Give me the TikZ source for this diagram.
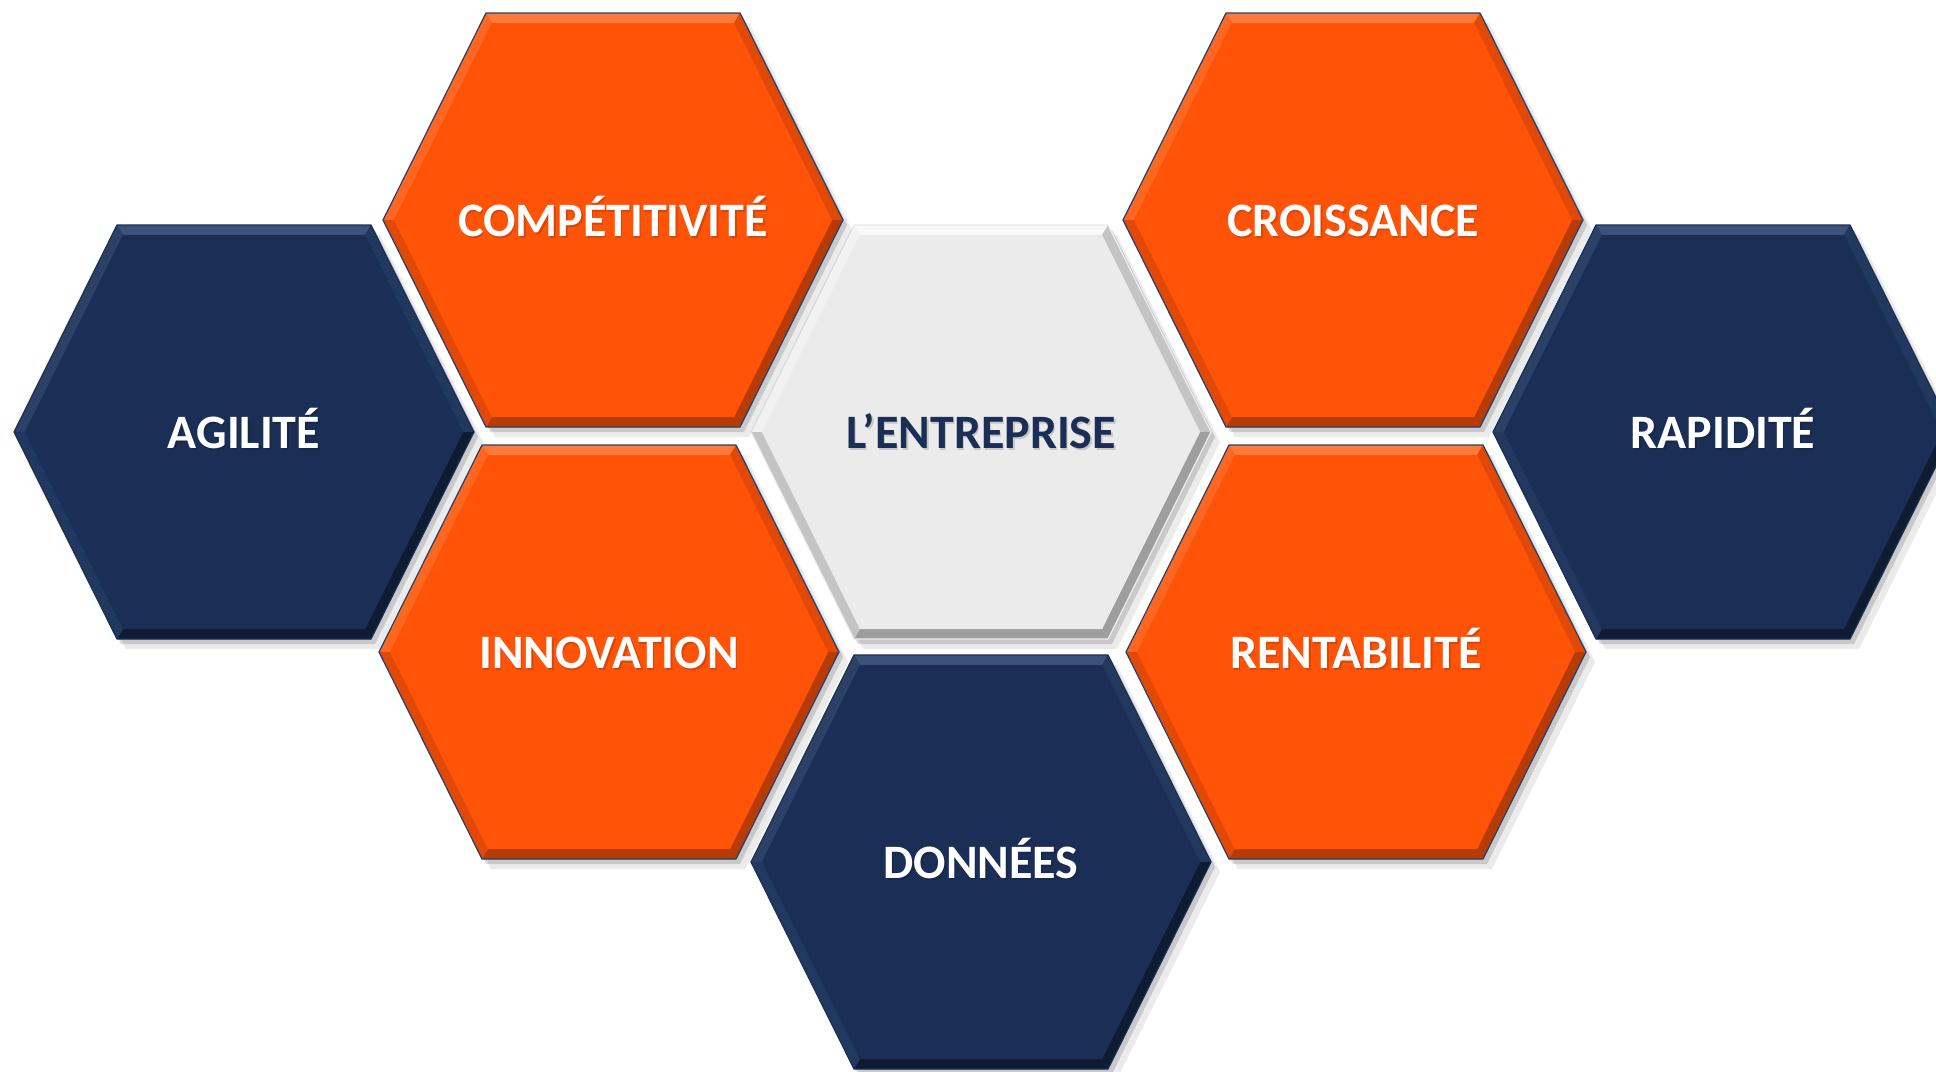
\documentclass[tikz,border=0pt]{standalone}
\usepackage{fontspec}
\setmainfont{Carlito}
\definecolor{orng}{HTML}{FF5308}
\definecolor{orngL}{HTML}{FF7A38}
\definecolor{orngD}{HTML}{B63B06}
\definecolor{orngM}{HTML}{E24906}
\definecolor{navy}{HTML}{1B2F56}
\definecolor{navyL}{HTML}{3B537A}
\definecolor{navyD}{HTML}{0E1B33}
\definecolor{navyM}{HTML}{22395F}
\definecolor{gry}{HTML}{EBEBEB}
\definecolor{gryL}{HTML}{F9F9F9}
\definecolor{gryD}{HTML}{9E9E9E}
\definecolor{gryM}{HTML}{C4C4C4}
\definecolor{edgeblue}{HTML}{24406E}
\tikzset{
  hexlabel/.style={font=\bfseries\fontsize{24}{27}\selectfont, inner sep=0pt, anchor=base},
}
% #1 x, #2 y, #3 node name, #4 colour scheme, #5 text, #6 text colour, #7 outline colour
\newcommand{\hexcell}[7]{%
  \begin{scope}[shift={(#1,#2)}]
    \coordinate (R) at (230,0);   \coordinate (TR) at (127,-207);
    \coordinate (TL) at (-127,-207); \coordinate (L) at (-230,0);
    \coordinate (BL) at (-127,207); \coordinate (BR) at (127,207);
    \coordinate (iR) at (219,0);   \coordinate (iTR) at (121,-197);
    \coordinate (iTL) at (-121,-197); \coordinate (iL) at (-219,0);
    \coordinate (iBL) at (-121,197); \coordinate (iBR) at (121,197);
    \fill[black,opacity=0.08] ([shift={(9,10)}]R) -- ([shift={(9,10)}]TR) -- ([shift={(9,10)}]TL) -- ([shift={(9,10)}]L) -- ([shift={(9,10)}]BL) -- ([shift={(9,10)}]BR) -- cycle;
    \fill[black,opacity=0.14] ([shift={(4,5)}]R) -- ([shift={(4,5)}]TR) -- ([shift={(4,5)}]TL) -- ([shift={(4,5)}]L) -- ([shift={(4,5)}]BL) -- ([shift={(4,5)}]BR) -- cycle;
    \fill[#4] (R) -- (TR) -- (TL) -- (L) -- (BL) -- (BR) -- cycle;
    \fill[#4L] (TL) -- (TR) -- (iTR) -- (iTL) -- cycle;
    \fill[#4L!50!#4] (L) -- (TL) -- (iTL) -- (iL) -- cycle;
    \fill[#4M] (TR) -- (R) -- (iR) -- (iTR) -- cycle;
    \fill[#4D] (R) -- (BR) -- (iBR) -- (iR) -- cycle;
    \fill[#4D] (BR) -- (BL) -- (iBL) -- (iBR) -- cycle;
    \fill[#4M] (BL) -- (L) -- (iL) -- (iBL) -- cycle;
    \fill[#4] (iR) -- (iTR) -- (iTL) -- (iL) -- (iBL) -- (iBR) -- cycle;
    \draw[#7, line width=0.6pt, line join=round] (R) -- (TR) -- (TL) -- (L) -- (BL) -- (BR) -- cycle;
  \end{scope}
  \node[hexlabel, text=black, opacity=0.15] at ([shift={(1.5,2.5)}]#1,#2+16) {#5};
  \node[hexlabel, text=#6] (#3) at (#1,#2+16) {#5};
}
\begin{document}
\begin{tikzpicture}[x=0.5pt, y=-0.5pt]
  \fill[white] (0,0) rectangle (1936,1071);
  \useasboundingbox (0,0) rectangle (1936,1071);
  \hexcell{981}{432}{entreprise}{gry}{L’ENTREPRISE}{navy}{gry}
  \hexcell{244}{432}{agilite}{navy}{AGILITÉ}{white}{navy}
  \hexcell{613}{220}{competitivite}{orng}{COMPÉTITIVITÉ}{white}{edgeblue}
  \hexcell{609}{652}{innovation}{orng}{INNOVATION}{white}{edgeblue}
  \hexcell{981}{862}{donnees}{navy}{DONNÉES}{white}{navy}
  \hexcell{1353}{220}{croissance}{orng}{CROISSANCE}{white}{edgeblue}
  \hexcell{1356}{652}{rentabilite}{orng}{RENTABILITÉ}{white}{edgeblue}
  \hexcell{1723}{432}{rapidite}{navy}{RAPIDITÉ}{white}{navy}
\end{tikzpicture}
\end{document}
